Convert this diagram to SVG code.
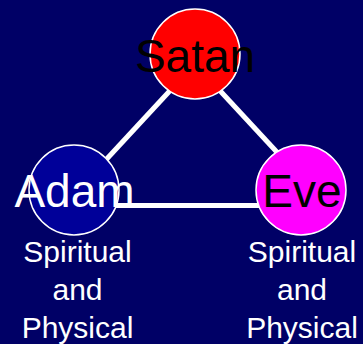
<svg xmlns="http://www.w3.org/2000/svg" width="363" height="344" viewBox="0 0 363 344">
<style>
.bg{fill:#000066}
.edge{stroke:#ffffff;stroke-width:5;fill:none}
.node{stroke:#ffffff;stroke-width:1.5}
.lbl{font-family:"Liberation Sans",Arial,sans-serif;font-size:46px;text-anchor:middle}
.sub{font-family:"Liberation Sans",Arial,sans-serif;font-size:30px;text-anchor:middle;fill:#ffffff}
</style>
<rect class="bg" x="0" y="0" width="363" height="344"/>
<g id="connectors">
<line class="edge" x1="203" y1="55" x2="78" y2="190"/>
<line class="edge" x1="186" y1="54" x2="312" y2="190"/>
<line class="edge" x1="74" y1="205.5" x2="302" y2="205.5"/>
</g>
<g id="satan">
<circle class="node" cx="195" cy="54" r="45" fill="#ff0000"/>
<text class="lbl" x="195" y="72" fill="#000000">Satan</text>
</g>
<g id="adam">
<circle class="node" cx="74" cy="190" r="45" fill="#000099"/>
<text class="lbl" x="74.5" y="207" fill="#ffffff">Adam</text>
<text class="sub" x="77.5" y="262">Spiritual</text>
<text class="sub" x="77.5" y="300">and</text>
<text class="sub" x="77.5" y="338">Physical</text>
</g>
<g id="eve">
<circle class="node" cx="301" cy="190" r="45" fill="#ff00ff"/>
<text class="lbl" x="302" y="207" fill="#000000">Eve</text>
<text class="sub" x="302" y="262">Spiritual</text>
<text class="sub" x="302" y="300">and</text>
<text class="sub" x="302" y="338">Physical</text>
</g>
</svg>
